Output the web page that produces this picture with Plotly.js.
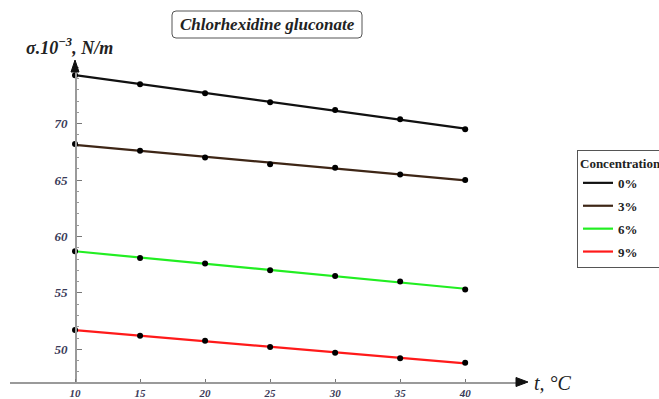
<!DOCTYPE html>
<html>
<head>
<meta charset="utf-8">
<script src="https://cdn.plot.ly/plotly-3.0.1.min.js"></script>
<style>html,body{margin:0;padding:0;background:#fff;}#chart{width:659px;height:399px;}</style>
</head>
<body>
<div id="chart"></div>
<script>
// ---- data ----
const temps = [10, 15, 20, 25, 30, 35, 40];
const c0 = [74.3, 73.5, 72.7, 71.9, 71.2, 70.4, 69.5];
const c3 = [68.2, 67.6, 67.0, 66.4, 66.1, 65.5, 65.0];
const c6 = [58.7, 58.1, 57.6, 57.0, 56.5, 56.0, 55.3];
const c9 = [51.7, 51.2, 50.75, 50.2, 49.7, 49.2, 48.8];
const seriesNames = ["0%", "3%", "6%", "9%"];
const xTicks = [10, 15, 20, 25, 30, 35, 40];
const yTicks = [50, 55, 60, 65, 70];

const series = [c0, c3, c6, c9];
const colors = ["#111111", "#3e2616", "#22ee22", "#ff1a1a"];

function fit(xs, ys) {
  const n = xs.length;
  let sx = 0, sy = 0, sxx = 0, sxy = 0;
  for (let i = 0; i < n; i++) { sx += xs[i]; sy += ys[i]; sxx += xs[i]*xs[i]; sxy += xs[i]*ys[i]; }
  const b = (n*sxy - sx*sy) / (n*sxx - sx*sx);
  const a = (sy - b*sx) / n;
  return [a, b];
}

const traces = [];
series.forEach((ys, i) => {
  const [a, b] = fit(temps, ys);
  const x0 = temps[0], x1 = temps[temps.length-1];
  traces.push({
    x: [x0, x1], y: [a + b*x0, a + b*x1],
    mode: "lines", name: seriesNames[i], legendgroup: "g"+i,
    line: {color: colors[i], width: 2.2},
    hoverinfo: "skip"
  });
});
series.forEach((ys, i) => {
  traces.push({
    x: temps, y: ys, mode: "markers", showlegend: false,
    marker: {color: "#000", size: 6}
  });
});

// pixel -> paper helpers (plot area: x 10..525, y 65..382)
const L = 10, R = 525, T = 65, B = 382;
const px = v => (v - L) / (R - L);
const py = v => (B - v) / (B - T);

function roundRect(x0, y0, x1, y1, r) {
  const X = v => px(v), Y = v => py(v);
  const rx = r / (R - L), ry = r / (B - T);
  return `M${X(x0)+rx},${Y(y0)} L${X(x1)-rx},${Y(y0)} Q${X(x1)},${Y(y0)} ${X(x1)},${Y(y0)-ry} ` +
         `L${X(x1)},${Y(y1)+ry} Q${X(x1)},${Y(y1)} ${X(x1)-rx},${Y(y1)} ` +
         `L${X(x0)+rx},${Y(y1)} Q${X(x0)},${Y(y1)} ${X(x0)},${Y(y1)+ry} ` +
         `L${X(x0)},${Y(y0)-ry} Q${X(x0)},${Y(y0)} ${X(x0)+rx},${Y(y0)} Z`;
}
function tri(pts) {
  return "M" + pts.map(p => `${px(p[0])},${py(p[1])}`).join(" L") + " Z";
}

const serif = "Liberation Serif";
const tickColor = "#3a3a58";

const layout = {
  width: 659, height: 399,
  font: {family: serif, color: "#222"},
  margin: {l: L, r: 659 - R, t: T, b: 399 - B, autoexpand: false},
  paper_bgcolor: "#fff", plot_bgcolor: "#fff",
  showlegend: true,
  xaxis: {
    range: [5, 44.6], showgrid: false, zeroline: false,
    showline: true, linecolor: "#9a9a9a", linewidth: 1.5,
    tickvals: xTicks, ticks: "inside", ticklen: 3, tickcolor: "#777",
    ticklabelstandoff: 0,
    tickfont: {family: serif, size: 11, color: tickColor, style: "italic", weight: "bold"},
    fixedrange: true
  },
  yaxis: {
    range: [47.1, 75.2], showgrid: false, zeroline: false,
    anchor: "free", position: px(75), side: "left",
    showline: true, linecolor: "#9a9a9a", linewidth: 1.5,
    tickvals: yTicks, ticks: "inside", ticklen: 5, tickcolor: "#777",
    minor: {dtick: 1, ticks: "inside", ticklen: 2.5, tickcolor: "#999"},
    ticklabelstandoff: 5,
    tickfont: {family: serif, size: 13, color: tickColor, style: "italic", weight: "bold"},
    fixedrange: true
  },
  legend: {
    x: px(577), y: py(150), xanchor: "left", yanchor: "top",
    bgcolor: "#fff", bordercolor: "#555", borderwidth: 1,
    title: {text: "Concentration", font: {family: serif, size: 13, color: "#222", weight: "bold"}},
    font: {family: serif, size: 13, color: "#222", weight: "bold"},
    traceorder: "grouped", tracegroupgap: 3, itemwidth: 30
  },
  shapes: [
    {type: "path", xref: "paper", yref: "paper", path: roundRect(172, 11, 362, 38, 4),
     line: {color: "#555", width: 1}, fillcolor: "rgba(0,0,0,0)"},
    // x-axis arrowhead
    {type: "path", xref: "paper", yref: "paper", path: tri([[516, B-4.5], [528, B], [516, B+4.5]]),
     line: {color: "#111", width: 1}, fillcolor: "#111"},
    // y-axis arrowhead
    {type: "path", xref: "paper", yref: "paper", path: tri([[71, 72], [75, 60], [79, 72]]),
     line: {color: "#111", width: 1}, fillcolor: "#111"}
  ],
  annotations: [
    {xref: "paper", yref: "paper", x: px(267), y: py(25), xanchor: "center", yanchor: "middle",
     text: "Chlorhexidine gluconate",
     showarrow: false, font: {family: serif, size: 17, color: "#222", style: "italic", weight: "bold"}},
    {xref: "paper", yref: "paper", x: px(24), y: py(47), xanchor: "left", yanchor: "middle",
     text: "σ.10<sup>−3</sup>, N/m",
     showarrow: false, font: {family: serif, size: 18, color: "#222", style: "italic", weight: "bold"}},
    {xref: "paper", yref: "paper", x: px(532), y: py(383), xanchor: "left", yanchor: "middle",
     text: "t, °C",
     showarrow: false, font: {family: serif, size: 20, color: "#222", style: "italic"}}
  ]
};

Plotly.newPlot("chart", traces, layout, {displayModeBar: false, staticPlot: true});
</script>
</body>
</html>
